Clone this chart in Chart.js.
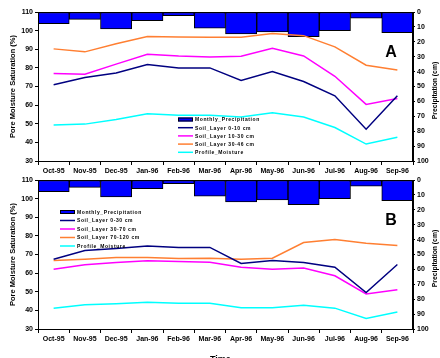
<!DOCTYPE html>
<html>
<head>
<meta charset="utf-8">
<script src="https://cdn.jsdelivr.net/npm/chart.js@4/dist/chart.umd.min.js"></script>
<style>
  html, body { margin: 0; padding: 0; background: #fff; }
  #wrap { position: relative; width: 440px; height: 358px; overflow: hidden; background: #fff; }
  canvas { position: absolute; left: 0; }
  #c1 { top: 0; }
  #c2 { top: 168px; }
  #xt { position: absolute; top: 354px; left: 210px; font: bold 9px "Liberation Sans", Arial, sans-serif; color: #000; }
</style>
</head>
<body>
<div id="wrap">
  <canvas id="c1" width="440" height="180"></canvas>
  <canvas id="c2" width="440" height="180"></canvas>
  <div id="xt">Time</div>
</div>
<script>
// ---- data ----
const months = ["Oct-95","Nov-95","Dec-95","Jan-96","Feb-96","Mar-96","Apr-96","May-96","Jun-96","Jul-96","Aug-96","Sep-96"];
const precipitation = [7.8, 4.9, 11.4, 5.8, 2.5, 10.9, 14.7, 13.4, 16.5, 12.5, 4.2, 13.8];

const labelsA = ["Soil_Layer 0-10 cm", "Soil_Layer 10-30 cm", "Soil_Layer 30-46 cm", "Profile_Moisture"];
const layerA1 = [70.9, 74.8, 77.3, 81.8, 80.0, 80.0, 73.2, 78.0, 72.7, 65.0, 47.1, 65.0];
const layerA2 = [77.0, 76.6, 82.0, 87.3, 86.4, 85.9, 86.3, 90.5, 86.4, 75.5, 60.4, 63.6];
const layerA3 = [90.2, 88.6, 93.0, 96.8, 96.6, 96.4, 96.4, 98.4, 97.3, 91.3, 81.4, 78.9];
const profileA = [49.3, 49.8, 52.3, 55.4, 54.6, 54.5, 53.6, 55.9, 53.6, 48.0, 39.1, 42.7];

const labelsB = ["Soil_Layer 0-30 cm", "Soil_Layer 30-70 cm", "Soil_Layer 70-120 cm", "Profile_Moisture"];
const layerB1 = [67.5, 72.1, 73.2, 74.5, 73.8, 73.8, 65.2, 66.8, 65.7, 63.2, 49.6, 64.6];
const layerB2 = [62.1, 64.5, 65.7, 66.6, 66.3, 65.9, 63.1, 62.1, 62.7, 58.6, 48.8, 51.1];
const layerB3 = [66.8, 67.5, 68.4, 68.4, 67.9, 68.0, 67.5, 68.0, 76.4, 78.0, 76.0, 74.8];
const profileB = [41.2, 43.0, 43.6, 44.3, 43.8, 43.8, 41.4, 41.4, 42.7, 41.2, 35.7, 39.1];

const precipLabel = "Monthly_Precipitation";
const leftRange = [30, 110];
const rightRange = [0, 100];
const leftTitle = "Pore Moisture Saturation (%)";
const rightTitle = "Precipitation (cm)";

// ---- styles ----
const lineColors = ["#000080", "#FF00FF", "#FF7F32", "#00FFFF"];
const FONT = '"Liberation Sans", Arial, sans-serif';

function makeChart(id, labels, series, legendPos, letter) {
  const datasets = [{
    type: 'bar', label: precipLabel, data: precipitation, yAxisID: 'y2',
    backgroundColor: '#0000FF', borderColor: '#000000', borderWidth: 1, borderSkipped: false,
    categoryPercentage: 1.0, barPercentage: 1.0, order: 10
  }];
  series.forEach((s, i) => datasets.push({
    type: 'line', label: labels[i], data: s, yAxisID: 'y',
    borderColor: lineColors[i], backgroundColor: lineColors[i], borderWidth: 1.5,
    pointRadius: 0, tension: 0, order: 1
  }));

  const deco = {
    id: 'deco',
    afterDraw(chart) {
      const ctx = chart.ctx, a = chart.chartArea;
      ctx.save();
      ctx.strokeStyle = '#000'; ctx.lineWidth = 1;
      ctx.strokeRect(Math.round(a.left) + 0.5, Math.round(a.top) + 0.5, Math.round(a.right - a.left) - 1, Math.round(a.bottom - a.top));
      // axis titles
      ctx.fillStyle = '#000';
      ctx.font = 'bold 7.5px ' + FONT;
      ctx.textAlign = 'center'; ctx.textBaseline = 'middle';
      ctx.translate(13, (a.top + a.bottom) / 2);
      ctx.rotate(-Math.PI / 2);
      ctx.fillText(leftTitle, 0, 0);
      ctx.restore();
      ctx.save();
      ctx.fillStyle = '#000';
      ctx.font = 'bold 6.8px ' + FONT;
      ctx.textAlign = 'center'; ctx.textBaseline = 'middle';
      ctx.translate(435, (a.top + a.bottom) / 2 + 4);
      ctx.rotate(-Math.PI / 2);
      ctx.fillText(rightTitle, 0, 0);
      ctx.restore();
      // panel letter
      ctx.save();
      ctx.fillStyle = '#000';
      ctx.font = 'bold 16px ' + FONT;
      ctx.textAlign = 'center'; ctx.textBaseline = 'alphabetic';
      ctx.fillText(letter, 391, a.top + 45);
      ctx.restore();
      // legend
      ctx.save();
      ctx.font = 'bold 5px ' + FONT;
      try { ctx.letterSpacing = '0.6px'; } catch (e) {}
      ctx.textBaseline = 'middle'; ctx.textAlign = 'left';
      chart.data.datasets.forEach((ds, i) => {
        const y = legendPos.y + i * legendPos.dy;
        const x = legendPos.x;
        if (ds.type === 'bar') {
          ctx.fillStyle = '#0000FF';
          ctx.fillRect(x, y - 2, 15, 4);
          ctx.strokeStyle = '#000'; ctx.lineWidth = 1;
          ctx.strokeRect(x + 0.5, y - 1.5, 14, 3);
        } else {
          ctx.strokeStyle = ds.borderColor; ctx.lineWidth = 1.5;
          ctx.beginPath(); ctx.moveTo(x, y); ctx.lineTo(x + 15, y); ctx.stroke();
        }
        ctx.fillStyle = '#000';
        ctx.fillText(ds.label, x + 17, y + 0.5);
      });
      ctx.restore();
    }
  };

  return new Chart(document.getElementById(id), {
    data: { labels: months, datasets },
    plugins: [deco],
    options: {
      responsive: false, animation: false, devicePixelRatio: 1,
      layout: { padding: { top: 12, left: 0, right: 0, bottom: 0 } },
      plugins: { legend: { display: false }, tooltip: { enabled: false } },
      scales: {
        x: {
          offset: true,
          grid: { offset: true, drawOnChartArea: false, drawTicks: true, tickLength: 4, color: '#000' },
          border: { color: '#000' },
          ticks: { color: '#000', font: { family: FONT, size: 7, weight: 'bold' }, maxRotation: 0, autoSkip: false, padding: 2 },
          afterFit(s) { s.height = 19; }
        },
        y: {
          position: 'left', min: leftRange[0], max: leftRange[1],
          grid: { drawOnChartArea: false, tickLength: 3, color: '#000' },
          border: { color: '#000' },
          ticks: { stepSize: 10, color: '#000', font: { family: FONT, size: 7, weight: 'bold' }, padding: 2 },
          afterFit(s) { s.width = 38; }
        },
        y2: {
          position: 'right', min: rightRange[0], max: rightRange[1], reverse: true,
          grid: { drawOnChartArea: false, tickLength: 2, color: '#000' },
          border: { color: '#000' },
          ticks: { stepSize: 10, color: '#000', font: { family: FONT, size: 7, weight: 'bold' }, padding: 2 },
          afterFit(s) { s.width = 27; }
        }
      }
    }
  });
}

makeChart('c1', labelsA, [layerA1, layerA2, layerA3, profileA], { x: 178, y: 119.5, dy: 8.2 }, 'A');
makeChart('c2', labelsB, [layerB1, layerB2, layerB3, profileB], { x: 60, y: 212 - 168, dy: 8.5 }, 'B');
</script>
</body>
</html>
